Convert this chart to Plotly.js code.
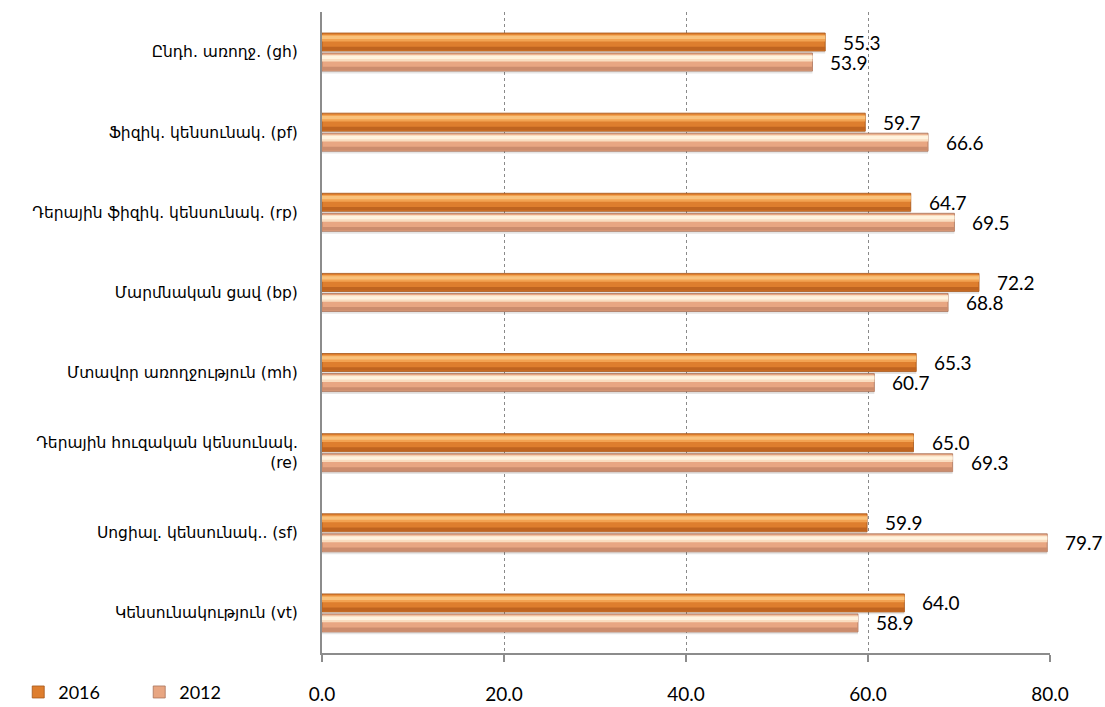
<!DOCTYPE html>
<html>
<head>
<meta charset="utf-8">
<script src="https://cdn.plot.ly/plotly-3.0.1.min.js"></script>
<style>
  html, body { margin: 0; padding: 0; background: #ffffff; }
  #chart { width: 1105px; height: 707px; }
</style>
</head>
<body>
<div id="chart"></div>
<script>
// Categories, listed top to bottom
const categories = [
  "Ընդհ. առողջ. (gh)",
  "Ֆիզիկ. կենսունակ. (pf)",
  "Դերային ֆիզիկ. կենսունակ. (rp)",
  "Մարմնական ցավ (bp)",
  "Մտավոր առողջություն (mh)",
  "Դերային հուզական կենսունակ.<br>(re)",
  "Սոցիալ. կենսունակ.. (sf)",
  "Կենսունակություն (vt)"
];
const values2016 = [55.3, 59.7, 64.7, 72.2, 65.3, 65.0, 59.9, 64.0];
const values2012 = [53.9, 66.6, 69.5, 68.8, 60.7, 69.3, 79.7, 58.9];
const seriesNames = ["2016", "2012"];
const xTicks = [0, 20, 40, 60, 80];

const labelFont = "Lato, 'Open Sans', 'Liberation Sans', sans-serif";
const catFont = "'DejaVu Sans', 'Noto Sans', sans-serif";

// Bar bands (in category units) for each series: shadow, main body, highlight, dark lower edge
const W = 0.225;
function bandTraces(vals, off, colors, name, showLegend) {
  return [
    { type: "bar", orientation: "h", y: categories, x: vals, offset: off + 0.03, width: W,
      marker: { color: "rgba(0,0,0,0.10)" }, hoverinfo: "skip", showlegend: false },
    { type: "bar", orientation: "h", y: categories, x: vals, offset: off, width: W, name: name,
      marker: { color: colors.main, line: { color: colors.edge, width: 0.8 } }, showlegend: showLegend },
    { type: "bar", orientation: "h", y: categories, x: vals, offset: off + 0.02, width: 0.085,
      marker: { color: colors.light }, hoverinfo: "skip", showlegend: false },
    { type: "bar", orientation: "h", y: categories, x: vals, offset: off + 0.035, width: 0.04,
      marker: { color: colors.shine }, hoverinfo: "skip", showlegend: false },
    { type: "bar", orientation: "h", y: categories, x: vals, offset: off + W - 0.055, width: 0.045,
      marker: { color: colors.dark }, hoverinfo: "skip", showlegend: false }
  ];
}

const c2016 = { main: "#DE7E2E", edge: "#A45519", light: "#F2A352", shine: "#F9C27C", dark: "#BF6420" };
const c2012 = { main: "#E8A682", edge: "#A8735A", light: "#F9DDC0", shine: "#FFF3DE", dark: "#CB8C6D" };

const data = []
  .concat(bandTraces(values2016, -0.2375, c2016, seriesNames[0], true))
  .concat(bandTraces(values2012, 0.0125, c2012, seriesNames[1], true));

// Value labels next to each bar end
const annotations = [];
categories.forEach((c, i) => {
  annotations.push({ x: values2016[i], y: c, text: values2016[i].toFixed(1), showarrow: false,
    xanchor: "left", yanchor: "middle", xshift: 16, yshift: 10,
    font: { family: labelFont, size: 19, color: "#000" } });
  annotations.push({ x: values2012[i], y: c, text: values2012[i].toFixed(1), showarrow: false,
    xanchor: "left", yanchor: "middle", xshift: 16, yshift: -10,
    font: { family: labelFont, size: 19, color: "#000" } });
});

const layout = {
  width: 1105, height: 707,
  margin: { l: 322, r: 55, t: 12, b: 54, autoexpand: false },
  paper_bgcolor: "#ffffff", plot_bgcolor: "#ffffff",
  barmode: "overlay",
  showlegend: true,
  legend: { orientation: "h", xref: "container", yref: "container",
    x: 0.0165, xanchor: "left", y: 0.047, yanchor: "top",
    font: { family: labelFont, size: 18, color: "#000" },
    itemwidth: 30, entrywidth: 76, traceorder: "normal" },
  xaxis: {
    range: [0, 80], tickvals: xTicks, tickformat: ".1f", automargin: false,
    showgrid: true, gridcolor: "#8a8a8a", griddash: "dot", gridwidth: 1,
    zeroline: false, showline: true, linecolor: "#8c8c8c", linewidth: 2,
    ticks: "outside", ticklen: 7, tickcolor: "#8c8c8c", tickwidth: 2,
    ticklabelstandoff: 16,
    tickfont: { family: labelFont, size: 19, color: "#000" }, fixedrange: true
  },
  yaxis: {
    type: "category", autorange: "reversed", automargin: false,
    showgrid: false, zeroline: false, showline: true, linecolor: "#8c8c8c", linewidth: 2,
    ticks: "", ticklabelstandoff: 19,
    tickfont: { family: catFont, size: 15.5, color: "#000" }, fixedrange: true
  },
  annotations: annotations
};

Plotly.newPlot("chart", data, layout, { displayModeBar: false, staticPlot: true });
</script>
</body>
</html>
